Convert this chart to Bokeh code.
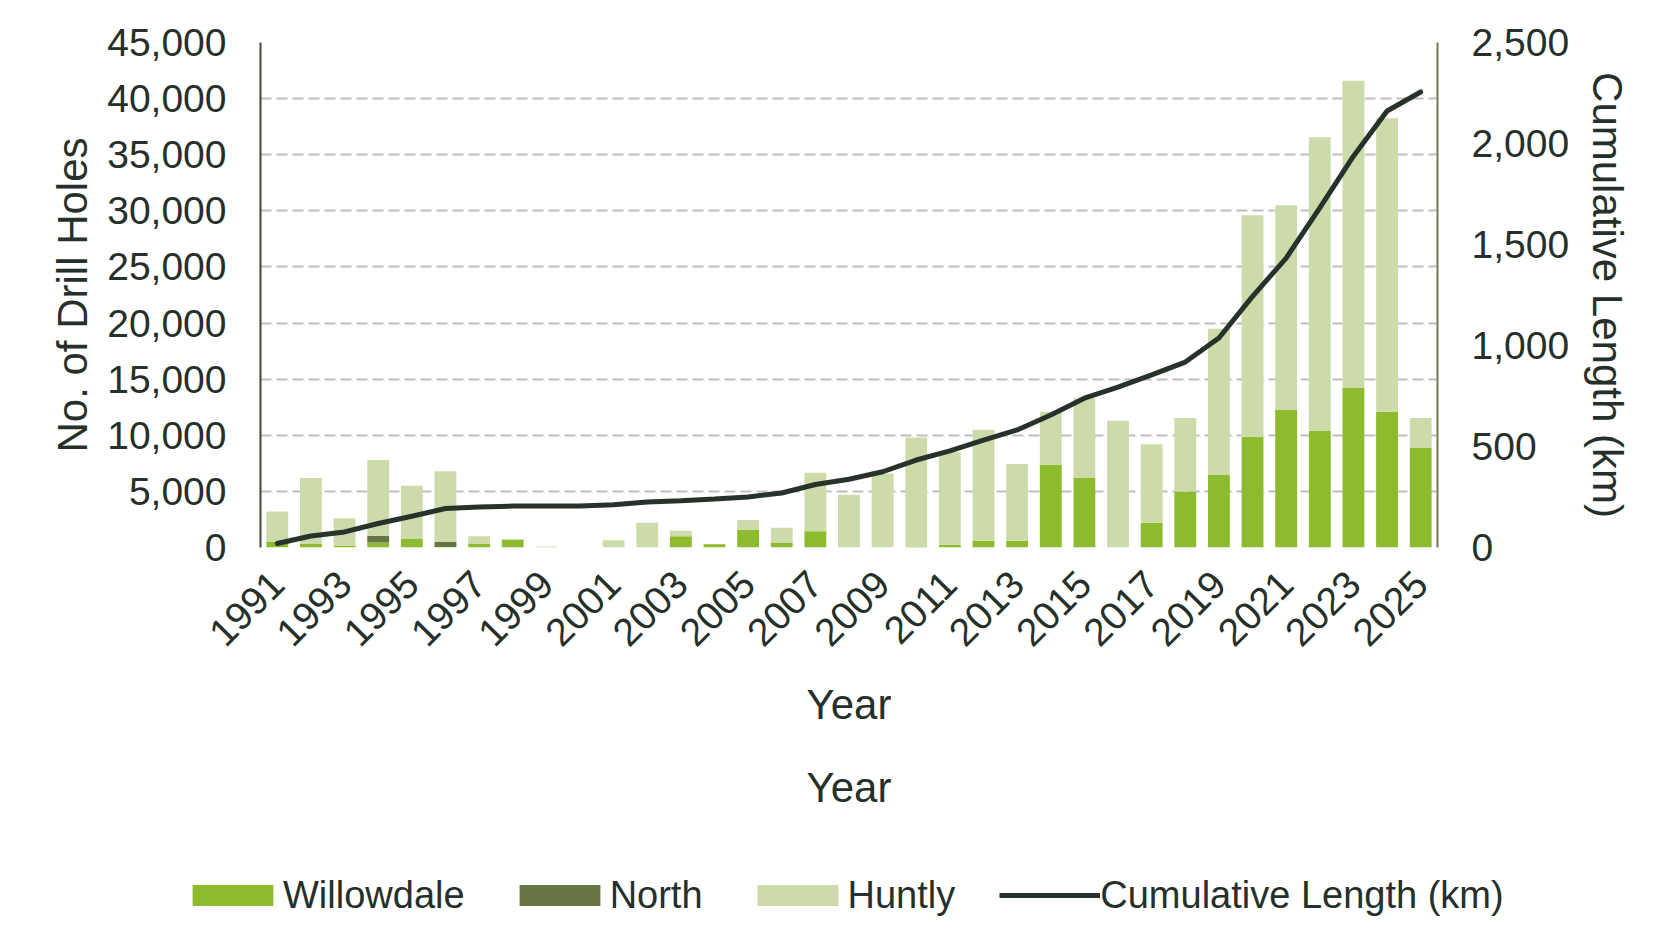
import math
from bokeh.plotting import figure
from bokeh.models import (Range1d, LinearAxis, FixedTicker, NumeralTickFormatter,
                          Legend, LegendItem, Label, ColumnDataSource)
from bokeh.embed import file_html
from bokeh.resources import INLINE

# ---- data ----
years = list(range(1991, 2026))
willowdale = [500, 350, 150, 450, 750, 50, 350, 700, 0, 0,
              0, 0, 1000, 300, 1550, 400, 1450, 0, 0, 50,
              250, 600, 600, 7350, 6200, 0, 2200, 5000, 6450, 9850,
              12250, 10400, 14250, 12100, 8900]
north = [0, 0, 0, 600, 0, 450, 0, 0, 0, 0,
         0, 0, 0, 0, 0, 0, 0, 0, 0, 0,
         0, 0, 0, 0, 0, 0, 0, 0, 0, 0,
         0, 0, 0, 0, 0]
huntly = [2700, 5850, 2450, 6750, 4750, 6300, 650, 50, 100, 0,
          650, 2200, 500, 0, 900, 1350, 5200, 4700, 6600, 9750,
          8250, 9900, 6850, 4750, 7100, 11300, 7000, 6550, 13050, 19750,
          18250, 26150, 27350, 26150, 2650]
cumulative_km = [20, 57, 77, 119, 155, 193, 200, 205, 205, 206,
                 212, 225, 232, 240, 250, 270, 312, 338, 375, 433,
                 478, 532, 582, 656, 739, 794, 855, 918, 1037, 1243,
                 1433, 1681, 1937, 2161, 2255]
left_ticks = list(range(0, 45001, 5000))
right_ticks = list(range(0, 2501, 500))
x_tick_years = list(range(1991, 2026, 2))
series_names = ["Willowdale", "North", "Huntly"]
line_name = "Cumulative Length (km)"
x_title = "Year"

FONT = "Liberation Sans"
TEXT = "#26302a"
COLORS = ["#8dbb2e", "#677545", "#cddbab"]
LINE_COLOR = "#26322a"
W = 1659

p = figure(width=W, height=760, output_backend="svg", toolbar_location=None,
           x_range=Range1d(1990.5, 2025.5), y_range=Range1d(0, 45000),
           min_border_left=260, min_border_right=222, min_border_top=42,
           min_border_bottom=213)
p.extra_y_ranges = {"km": Range1d(0, 2500)}
p.outline_line_color = None
p.background_fill_color = "white"
p.border_fill_color = "white"

src = ColumnDataSource(dict(year=years, Willowdale=willowdale, North=north,
                            Huntly=huntly, km=cumulative_km))
bars = p.vbar_stack(series_names, x="year", width=0.65, fill_color=COLORS,
                    line_color=None, source=src)
ln = p.line("year", "km", y_range_name="km", source=src, line_width=5,
            line_color=LINE_COLOR, line_cap="round")

# grid
p.xgrid.grid_line_color = None
p.ygrid.ticker = FixedTicker(ticks=left_ticks)
p.ygrid.grid_line_color = "#bfbfbf"
p.ygrid.grid_line_width = 2
p.ygrid.grid_line_dash = "11 5"

# x axis
xa = p.xaxis[0]
xa.ticker = FixedTicker(ticks=x_tick_years)
xa.major_label_orientation = math.pi / 4
xa.major_tick_line_color = None
xa.minor_tick_line_color = None
xa.axis_line_color = None
xa.major_label_standoff = 24
xa.major_label_text_font = FONT
xa.major_label_text_font_size = "39px"
xa.major_label_text_color = TEXT
xa.axis_label = x_title
xa.axis_label_text_font = FONT
xa.axis_label_text_font_size = "42px"
xa.axis_label_text_font_style = "normal"
xa.axis_label_text_color = TEXT
xa.axis_label_standoff = 20

# left axis
ya = p.yaxis[0]
ya.ticker = FixedTicker(ticks=left_ticks)
ya.formatter = NumeralTickFormatter(format="0,0")
ya.major_tick_line_color = None
ya.minor_tick_line_color = None
ya.axis_line_color = "#3e4a36"
ya.axis_line_width = 2
ya.major_label_standoff = 28
ya.major_label_text_font = FONT
ya.major_label_text_font_size = "39px"
ya.major_label_text_color = TEXT
ya.axis_label = "No. of Drill Holes"
ya.axis_label_text_font = FONT
ya.axis_label_text_font_size = "42px"
ya.axis_label_text_font_style = "normal"
ya.axis_label_text_color = TEXT
ya.axis_label_standoff = 8

# right axis
ra = LinearAxis(y_range_name="km", ticker=FixedTicker(ticks=right_ticks),
                formatter=NumeralTickFormatter(format="0,0"))
ra.major_tick_line_color = None
ra.minor_tick_line_color = None
ra.axis_line_color = "#6b7a4b"
ra.axis_line_width = 2
ra.major_label_standoff = 28
ra.major_label_text_font = FONT
ra.major_label_text_font_size = "39px"
ra.major_label_text_color = TEXT
ra.axis_label = line_name
ra.axis_label_text_font = FONT
ra.axis_label_text_font_size = "42px"
ra.axis_label_text_font_style = "normal"
ra.axis_label_text_color = TEXT
ra.axis_label_standoff = 12
p.add_layout(ra, "right")

# ---- lower strip (separate root): second "Year" title and the legend ----
H2 = 174
p2 = figure(width=W, height=H2, output_backend="svg", toolbar_location=None,
            x_range=Range1d(0, W), y_range=Range1d(0, H2),
            x_axis_location=None, y_axis_location=None, min_border=0)
p2.outline_line_color = None
p2.grid.visible = False
p2.add_layout(Label(x=848.5, y=H2 - 27, text=x_title, text_align="center",
                    text_baseline="middle", text_font=FONT, text_font_size="42px",
                    text_color=TEXT))

# hidden copies of the series, used only to draw the legend swatches
key_bars = p2.vbar_stack(series_names, x="year", width=0.65, fill_color=COLORS,
                         line_color=None, source=src, visible=False)
key_line = p2.line("year", "km", source=src, line_width=5, line_color=LINE_COLOR,
                   visible=False)
items = [LegendItem(label=series_names[i], renderers=[key_bars[i]]) for i in range(3)]
items.append(LegendItem(label=line_name, renderers=[key_line]))
legend = Legend(items=items, orientation="horizontal", location=(182, 14),
                glyph_width=101, glyph_height=26, label_height=50,
                label_standoff=0, spacing=44,
                padding=0, margin=0, border_line_color=None,
                background_fill_alpha=0, inactive_fill_alpha=0,
                label_text_font=FONT,
                label_text_font_size="38px", label_text_color=TEXT)
p2.add_layout(legend)

open("out.html", "w").write(file_html([p, p2], INLINE))
